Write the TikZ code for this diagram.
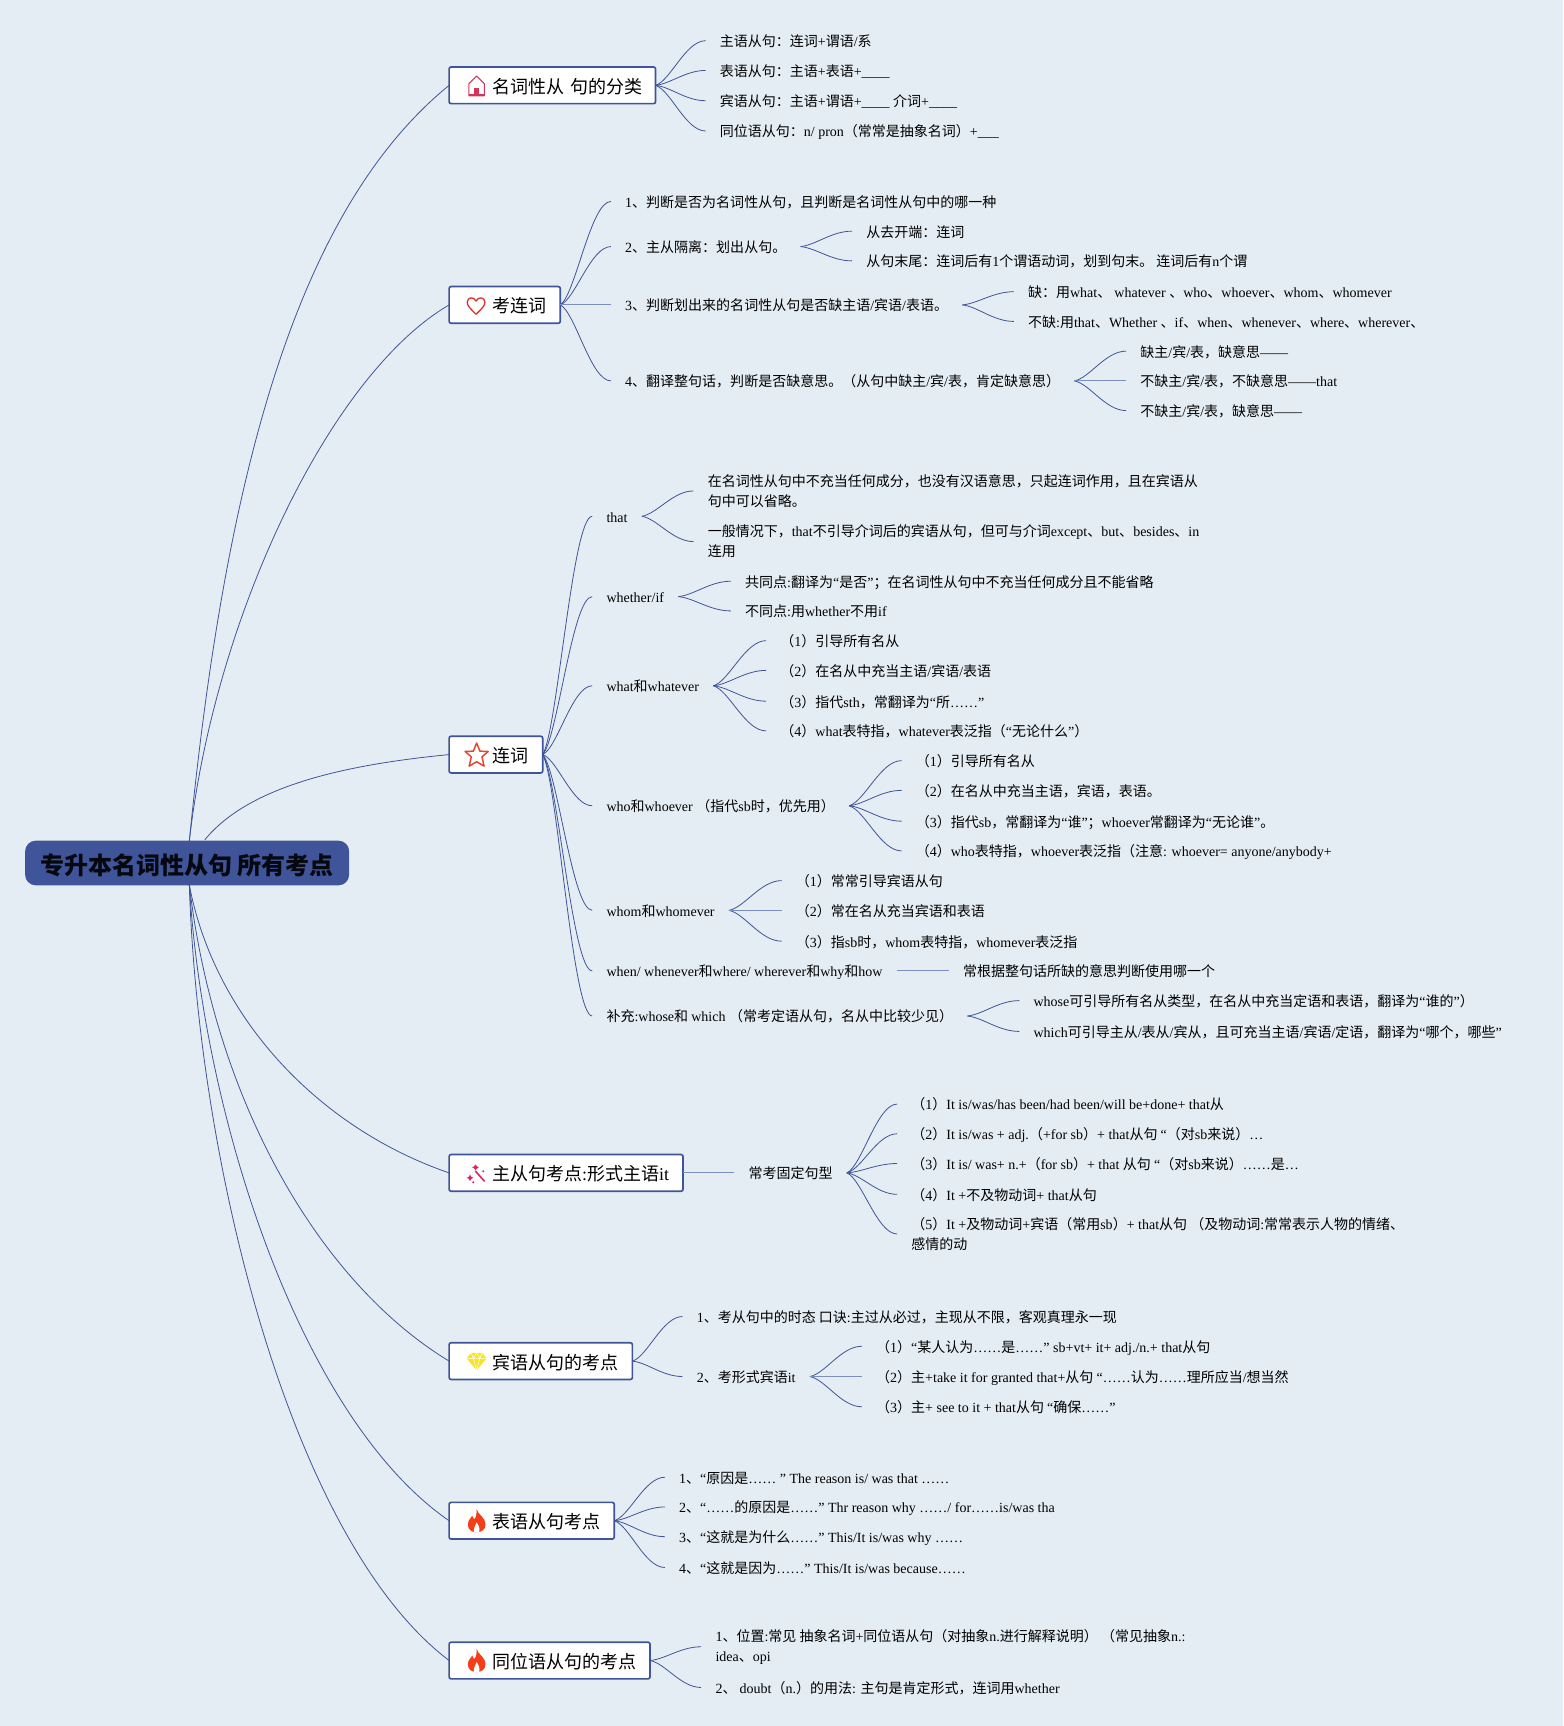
\documentclass[tikz,border=0pt]{standalone}
\usepackage{fontspec}
\usetikzlibrary{calc}
\setmainfont{Liberation Serif}
\newfontfamily\cjkfam{Noto Sans CJK SC}
\newXeTeXintercharclass\cjkcls
\newcount\cjkc
\cjkc="3000 \loop\XeTeXcharclass\cjkc=\cjkcls\advance\cjkc 1 \ifnum\cjkc<"3040 \repeat
\cjkc="4E00 \loop\XeTeXcharclass\cjkc=\cjkcls\advance\cjkc 1 \ifnum\cjkc<"A000 \repeat
\cjkc="FF00 \loop\XeTeXcharclass\cjkc=\cjkcls\advance\cjkc 1 \ifnum\cjkc<"FFF0 \repeat
\XeTeXinterchartoks 0 \cjkcls={\cjkfam}
\XeTeXinterchartoks 4095 \cjkcls={\cjkfam}
\XeTeXinterchartoks \cjkcls 0={\rmfamily}
\XeTeXinterchartoks 4095 0={\rmfamily}
\AtBeginDocument{\XeTeXinterchartokenstate=1 }
\definecolor{bgc}{HTML}{E4EDF3}
\definecolor{blu}{HTML}{3F5499}
\definecolor{blulight}{HTML}{7C8FC4}
\definecolor{housec}{HTML}{D6335C}
\definecolor{heartc}{HTML}{D9362B}
\definecolor{starc}{HTML}{E8452C}
\definecolor{wandc}{HTML}{E0245E}
\definecolor{gemc}{HTML}{F7E32B}
\definecolor{flamec}{HTML}{F53E17}
\newcommand\fanline[2]{\draw[conn] let \p1=(#1.east),\p2=(#2.west) in (\p1) .. controls ({\x1+.3*(\x2-\x1)},{\y1+.1*(\y2-\y1)}) and ({\x2-.4*(\x2-\x1)},\y2) .. (\p2);}
\newcommand\labpad{\hspace*{32.2pt}}
\tikzset{
  x=0.8255pt,y=-0.8255pt,
  txtb/.style={anchor=west,inner xsep=10.73pt,inner ysep=0pt,outer sep=0pt,align=left,font=\fontsize{10.5}{14.9}\selectfont},
  txt/.style={txtb,text height=10.3pt,text depth=1.5pt},
  branch/.style={anchor=west,draw=blu,line width=1.25pt,fill=white,rounded corners=1.5pt,inner xsep=0pt,inner ysep=0pt,outer sep=0pt,minimum height=27.5pt,text height=13.5pt,text depth=1.5pt,text width=#1*0.8255pt,align=left,font=\fontsize{13.5}{16}\selectfont},
  rootbox/.style={draw=none,fill=blu,rounded corners=8pt,minimum width=243pt,minimum height=33.5pt,inner sep=0pt,text height=19pt,text depth=2pt,font=\bfseries\fontsize{18}{22}\selectfont,text=black!90!blu},
  conn/.style={draw=blu,line width=.6pt},
  stline/.style={draw=blulight,line width=.8pt},
  house/.pic={\draw[housec,line width=.8pt,line join=round] (-7,9)--(-7,-2)--(0,-9)--(7,-2)--(7,9)--cycle;\fill[housec] (-2.5,8)--(-2.5,2)--(2.5,2)--(2.5,8)--cycle;\fill[housec] (-7,7)--(7,7)--(7,9)--(-7,9)--cycle;},
  heart/.pic={\draw[heartc,line width=1pt,line join=round] (0,7.5) .. controls (-5,2.5) and (-8,0) .. (-8,-3.5) .. controls (-8,-8) and (-2,-9) .. (0,-4.5) .. controls (2,-9) and (8,-8) .. (8,-3.5) .. controls (8,0) and (5,2.5) .. (0,7.5) -- cycle;},
  star/.pic={\draw[starc,line width=1.1pt,line join=round] (0,-11)--(3,-3.6)--(10.5,-3.4)--(4.8,1.6)--(6.8,10)--(0,6)--(-6.8,10)--(-4.8,1.6)--(-10.5,-3.4)--(-3,-3.6)--cycle;},
  wand/.pic={\draw[wandc,line width=1.2pt,line cap=round] (-1,-3)--(7,6);\fill[wandc] (-1,-9)--(.4,-7.4)--(2,-6.5)--(.4,-5.6)--(-1,-4)--(-2.4,-5.6)--(-4,-6.5)--(-2.4,-7.4)--cycle;\fill[wandc] (-6,0)--(-5,2)--(-3,3)--(-5,4)--(-6,6)--(-7,4)--(-9,3)--(-7,2)--cycle;\fill[wandc] (6,-3) circle[radius=1];\fill[wandc] (-3,7) circle[radius=1];},
  gem/.pic={\fill[gemc] (-5,-8)--(5,-8)--(9,-3)--(0,8)--(-9,-3)--cycle;\draw[white,line width=.4pt] (-9,-3)--(9,-3) (-5,-8)--(-3,-3)--(0,8)--(3,-3)--(5,-8) (-3,-3)--(0,-8)--(3,-3);},
  flame/.pic={\fill[flamec] (0,-11) .. controls (1,-6) and (8,-4) .. (8,3) .. controls (8,8) and (4,10) .. (0,10) .. controls (-4,10) and (-8,8) .. (-8,3) .. controls (-8,-1) and (-5,-3) .. (-4,-5) .. controls (-3,-3) and (-3,-2) .. (-2,-2) .. controls (0,-4) and (0,-8) .. (0,-11) -- cycle;\fill[white] (0,1) .. controls (2,4) and (3,6) .. (2.5,10) -- (-2.5,10) .. controls (-3,6) and (-1,4) .. (0,1) -- cycle;},
}
\begin{document}
\begin{tikzpicture}
\useasboundingbox (0,0) rectangle (1420,1568);
\fill[bgc] (0,0) rectangle (1420,1568);

\node[rootbox] (root) at (170,784) {专升本名词性从句 所有考点};
\coordinate (rtop) at (172,764);
\coordinate (rtopb) at (186,763);
\coordinate (rbot) at (172,804);

\node[branch=187.5] (b1) at (408,77.5) {\labpad 名词性从 句的分类};
\node[branch=101] (b2) at (408,277) {\labpad 考连词};
\node[branch=85] (b3) at (408,685.5) {\labpad 连词};
\node[branch=212.5] (b4) at (408,1065.5) {\labpad 主从句考点:形式主语it};
\node[branch=166.5] (b5) at (408,1236.5) {\labpad 宾语从句的考点};
\node[branch=150] (b6) at (408,1381.5) {\labpad 表语从句考点};
\node[branch=182.5] (b7) at (408,1508.5) {\labpad 同位语从句的考点};

\pic at (433,78) {house};
\pic at (432.5,278) {heart};
\pic at (433,686) {star};
\pic at (433,1067) {wand};
\pic at (433,1237) {gem};
\pic at (433,1382) {flame};
\pic at (433,1509) {flame};

\draw[conn] (rtop) .. controls (205,430) and (270,190) .. (b1.west);
\draw[conn] (rtop) .. controls (195,560) and (300,340) .. (b2.west);
\draw[conn] (rtopb) .. controls (225,715) and (310,695) .. (b3.west);
\draw[conn] (rbot) .. controls (195,925) and (290,1025) .. (b4.west);
\draw[conn] (rbot) .. controls (195,1000) and (290,1165) .. (b5.west);
\draw[conn] (rbot) .. controls (185,1020) and (275,1290) .. (b6.west);
\draw[conn] (rbot) .. controls (180,1060) and (265,1400) .. (b7.west);

% branch 1
\node[txt] (a1) at (641,37) {主语从句：连词+谓语/系};
\node[txt] (a2) at (641,64) {表语从句：主语+表语+\_\_\_\_};
\node[txt] (a3) at (641,91.5) {宾语从句：主语+谓语+\_\_\_\_ 介词+\_\_\_\_};
\node[txt] (a4) at (641,119) {同位语从句：n/ pron（常常是抽象名词）+\_\_\_};
\foreach \c in {a1,a2,a3,a4} {\fanline{b1}{\c}}

% branch 2
\node[txt] (k1) at (555,183) {1、判断是否为名词性从句，且判断是名词性从句中的哪一种};
\node[txt] (k2) at (555,224) {2、主从隔离：划出从句。};
\node[txt] (k3) at (555,277) {3、判断划出来的名词性从句是否缺主语/宾语/表语。};
\node[txt] (k4) at (555,346) {4、翻译整句话，判断是否缺意思。（从句中缺主/宾/表，肯定缺意思）};
\foreach \c in {k1,k2,k4} {\fanline{b2}{\c}}
\draw[stline] (b2.east) -- (k3.west);
\node[txt] (k2a) at (774,210) {从去开端：连词};
\node[txt] (k2b) at (774,237) {从句末尾：连词后有1个谓语动词，划到句末。 连词后有n个谓};
\foreach \c in {k2a,k2b} {\fanline{k2}{\c}}
\node[txt] (k3a) at (921,265) {缺：用what、 whatever 、who、whoever、whom、whomever};
\node[txt] (k3b) at (921,292) {不缺:用that、Whether 、if、when、whenever、where、wherever、};
\foreach \c in {k3a,k3b} {\fanline{k3}{\c}}
\node[txt] (k4a) at (1023,319) {缺主/宾/表，缺意思——};
\node[txt] (k4b) at (1023,346) {不缺主/宾/表，不缺意思——that};
\node[txt] (k4c) at (1023,373) {不缺主/宾/表，缺意思——};
\foreach \c in {k4a,k4c} {\fanline{k4}{\c}}
\draw[stline] (k4.east) -- (k4b.west);

% branch 3
\node[txt] (c1) at (538,469) {that};
\node[txt] (c2) at (538,542) {whether/if};
\node[txt] (c3) at (538,623) {what和whatever};
\node[txt] (c4) at (538,732) {who和whoever （指代sb时，优先用）};
\node[txt] (c5) at (538,827) {whom和whomever};
\node[txt] (c6) at (538,882) {when/ whenever和where/ wherever和why和how};
\node[txt] (c7) at (538,923) {补充:whose和 which （常考定语从句，名从中比较少见）};
\foreach \c in {c1,c2,c3,c4,c5,c6,c7} {\fanline{b3}{\c}}
\node[txtb] (c1a) at (630,446) {在名词性从句中不充当任何成分，也没有汉语意思，只起连词作用，且在宾语从\\句中可以省略。};
\node[txtb] (c1b) at (630,492) {一般情况下，that不引导介词后的宾语从句，但可与介词except、but、besides、in\\连用};
\foreach \c in {c1a,c1b} {\fanline{c1}{\c}}
\node[txt] (c2a) at (664,528) {共同点:翻译为“是否”；在名词性从句中不充当任何成分且不能省略};
\node[txt] (c2b) at (664,555) {不同点:用whether不用if};
\foreach \c in {c2a,c2b} {\fanline{c2}{\c}}
\node[txt] (c3a) at (696,582) {（1）引导所有名从};
\node[txt] (c3b) at (696,609) {（2）在名从中充当主语/宾语/表语};
\node[txt] (c3c) at (696,637) {（3）指代sth，常翻译为“所……”};
\node[txt] (c3d) at (696,664) {（4）what表特指，whatever表泛指（“无论什么”）};
\foreach \c in {c3a,c3b,c3c,c3d} {\fanline{c3}{\c}}
\node[txt] (c4a) at (819,691) {（1）引导所有名从};
\node[txt] (c4b) at (819,718) {（2）在名从中充当主语，宾语，表语。};
\node[txt] (c4c) at (819,746) {（3）指代sb，常翻译为“谁”；whoever常翻译为“无论谁”。};
\node[txt] (c4d) at (819,773) {（4）who表特指，whoever表泛指（注意: whoever= anyone/anybody+};
\foreach \c in {c4a,c4b,c4c,c4d} {\fanline{c4}{\c}}
\node[txt] (c5a) at (710,800) {（1）常常引导宾语从句};
\node[txt] (c5b) at (710,827) {（2）常在名从充当宾语和表语};
\node[txt] (c5c) at (710,855) {（3）指sb时，whom表特指，whomever表泛指};
\foreach \c in {c5a,c5c} {\fanline{c5}{\c}}
\draw[stline] (c5.east) -- (c5b.west);
\node[txt] (c6a) at (862,882) {常根据整句话所缺的意思判断使用哪一个};
\draw[stline] (c6.east) -- (c6a.west);
\node[txt] (c7a) at (926,909) {whose可引导所有名从类型，在名从中充当定语和表语，翻译为“谁的”）};
\node[txt] (c7b) at (926,937) {which可引导主从/表从/宾从，且可充当主语/宾语/定语，翻译为“哪个，哪些”};
\foreach \c in {c7a,c7b} {\fanline{c7}{\c}}

% branch 4
\node[txt] (d) at (667,1065.5) {常考固定句型};
\draw[stline] (b4.east) -- (d.west);
\node[txt] (d1) at (815,1003) {（1）It is/was/has been/had been/will be+done+ that从};
\node[txt] (d2) at (815,1030) {（2）It is/was + adj.（+for sb）+ that从句 “（对sb来说）…};
\node[txt] (d3) at (815,1057) {（3）It is/ was+ n.+（for sb）+ that 从句 “（对sb来说）……是…};
\node[txt] (d4) at (815,1085) {（4）It +不及物动词+ that从句};
\node[txtb] (d5) at (815,1121) {（5）It +及物动词+宾语（常用sb）+ that从句 （及物动词:常常表示人物的情绪、\\感情的动};
\foreach \c in {d1,d2,d3,d4,d5} {\fanline{d}{\c}}

% branch 5
\node[txt] (e1) at (620,1196) {1、考从句中的时态 口诀:主过从必过，主现从不限，客观真理永一现};
\node[txt] (e2) at (620,1250.5) {2、考形式宾语it};
\foreach \c in {e1,e2} {\fanline{b5}{\c}}
\node[txt] (e2a) at (783,1223) {（1）“某人认为……是……” sb+vt+ it+ adj./n.+ that从句};
\node[txt] (e2b) at (783,1250.5) {（2）主+take it for granted that+从句 “……认为……理所应当/想当然};
\node[txt] (e2c) at (783,1278) {（3）主+ see to it + that从句 “确保……”};
\foreach \c in {e2a,e2c} {\fanline{e2}{\c}}
\draw[stline] (e2.east) -- (e2b.west);

% branch 6
\node[txt] (f1) at (604,1342) {1、“原因是…… ” The reason is/ was that ……};
\node[txt] (f2) at (604,1369) {2、“……的原因是……” Thr reason why ……/ for……is/was tha};
\node[txt] (f3) at (604,1396) {3、“这就是为什么……” This/It is/was why ……};
\node[txt] (f4) at (604,1424) {4、“这就是因为……” This/It is/was because……};
\foreach \c in {f1,f2,f3,f4} {\fanline{b6}{\c}}

% branch 7
\node[txtb] (g1) at (637,1496) {1、位置:常见 抽象名词+同位语从句（对抽象n.进行解释说明） （常见抽象n.:\\idea、opi};
\node[txt] (g2) at (637,1533) {2、 doubt（n.）的用法: 主句是肯定形式，连词用whether};
\foreach \c in {g1,g2} {\fanline{b7}{\c}}
\end{tikzpicture}
\end{document}
